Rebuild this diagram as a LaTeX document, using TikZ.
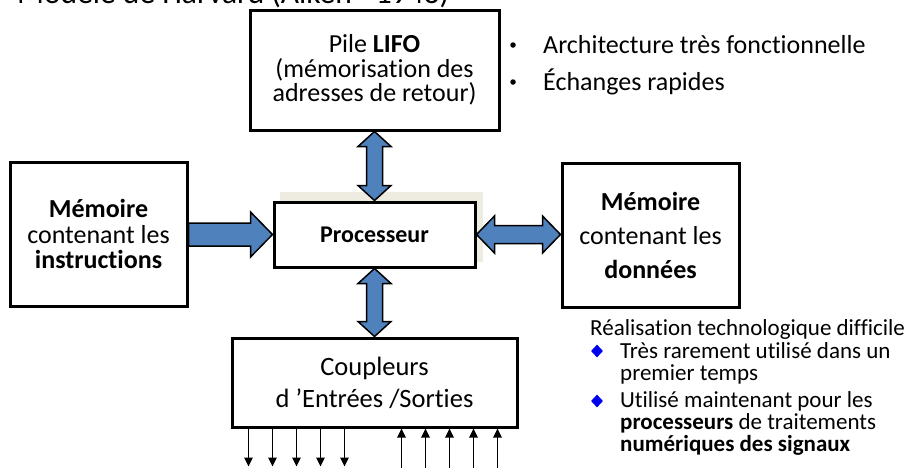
\documentclass[tikz,border=0pt]{standalone}
\usepackage{fontspec}
\setmainfont{Carlito}[Ligatures=NoCommon]
\usetikzlibrary{calc,arrows.meta,shapes.geometric}

\definecolor{arrowblue}{HTML}{4F81BD}
\definecolor{paper}{HTML}{EEECE1}
\definecolor{bulletblue}{HTML}{0000F0}

\tikzset{
  box/.style={draw=black, line width=3pt, fill=white, inner sep=0pt, align=center},
  blockarrow/.style={draw=black, line width=1.5pt, fill=arrowblue, line join=miter},
  sig/.style={line width=1.3pt, -{Triangle[length=9pt,width=8.5pt]}},
  txt/.style={inner sep=0pt, anchor=base west},
  dot/.style={circle, fill=black, inner sep=0pt, minimum size=5.5pt},
  diam/.style={diamond, fill=bulletblue, inner sep=0pt, minimum width=12pt, minimum height=13pt},
}

% vertical double block arrow: #1 upper end, #2 lower end,
% #3 half shaft width, #4 half head width, #5 head length
\newcommand\vdblarrow[5]{%
  \path[blockarrow] let \p1=(#1), \p2=(#2) in
    (\x1,\y1) -- (\x1+#4,\y1-#5) -- (\x1+#3,\y1-#5) -- (\x1+#3,\y2+#5)
    -- (\x1+#4,\y2+#5) -- (\x1,\y2) -- (\x1-#4,\y2+#5) -- (\x1-#3,\y2+#5)
    -- (\x1-#3,\y1-#5) -- (\x1-#4,\y1-#5) -- cycle;}

% horizontal double block arrow: #1 left end, #2 right end
\newcommand\hdblarrow[5]{%
  \path[blockarrow] let \p1=(#1), \p2=(#2) in
    (\x1,\y1) -- (\x1+#5,\y1+#4) -- (\x1+#5,\y1+#3) -- (\x2-#5,\y1+#3)
    -- (\x2-#5,\y1+#4) -- (\x2,\y1) -- (\x2-#5,\y1-#4) -- (\x2-#5,\y1-#3)
    -- (\x1+#5,\y1-#3) -- (\x1+#5,\y1-#4) -- cycle;}

% horizontal single block arrow: #1 tail end, #2 head end
\newcommand\hsglarrow[5]{%
  \path[blockarrow] let \p1=(#1), \p2=(#2) in
    (\x1,\y2+#3) -- (\x2-#5,\y2+#3) -- (\x2-#5,\y2+#4) -- (\x2,\y2)
    -- (\x2-#5,\y2-#4) -- (\x2-#5,\y2-#3) -- (\x1,\y2-#3) -- cycle;}

\begin{document}
\begin{tikzpicture}[x=1pt,y=-1pt]
  \useasboundingbox (0,0) rectangle (923,467);
  \fill[white] (0,0) rectangle (923,467);

  % heading, partly above the page edge
  \node[txt, font=\fontsize{31.5}{36}\selectfont] (title) at (17,3.5)
    {Modèle de Harvard (Aiken - 1943)};

  % pale panel behind the processor
  \node[fill=paper, inner sep=0pt, minimum width=203pt, minimum height=70pt] (procbg) at (381.5,227) {};

  % blocks
  \node[box, minimum width=249pt, minimum height=120pt, font=\fontsize{26}{24.5}\selectfont]
    (lifo) at (374.5,70) {Pile \textbf{LIFO}\\(mémorisation des\\adresses de retour)};
  \node[box, minimum width=177pt, minimum height=144pt, font=\fontsize{26}{25.5}\selectfont]
    (instr) at (98.5,234) {\textbf{Mémoire}\\contenant les\\\textbf{instructions}};
  \node[box, minimum width=201pt, minimum height=65pt, font=\fontsize{24}{28}\selectfont]
    (proc) at (374.5,234.5) {\textbf{Processeur}};
  \node[box, minimum width=177pt, minimum height=144pt, font=\fontsize{26}{34}\selectfont]
    (data) at (650.5,235) {\textbf{Mémoire}\\contenant les\\\textbf{données}};
  \node[box, minimum width=285pt, minimum height=89pt, font=\fontsize{26.5}{32}\selectfont]
    (io) at (374.5,382.5) {Coupleurs\\d ’Entrées /Sorties};

  % buses
  \vdblarrow{lifo.south}{proc.north}{8pt}{16.5pt}{15pt}
  \vdblarrow{proc.south}{io.north}{8pt}{16.5pt}{15pt}
  \hsglarrow{instr.east}{proc.west}{11.5pt}{22.5pt}{22pt}
  \hdblarrow{proc.east}{data.west}{9pt}{18.5pt}{18pt}

  % input / output lines
  \foreach \dx [count=\i] in {18,42,66,90,114}{
    \coordinate (out\i) at ($(io.south west)+(\dx,38)$);
    \draw[sig] ($(io.south west)+(\dx,0)$) -- (out\i);
  }
  \foreach \dx [count=\i] in {171,195,219,243,267}{
    \coordinate (in\i) at ($(io.south west)+(\dx,44)$);
    \draw[sig] (in\i) -- ($(io.south west)+(\dx,0)$);
  }

  % remarks, upper right
  \begin{scope}[font=\fontsize{26}{30}\selectfont]
    \node[dot] (b1) at (513,45) {};
    \node[txt] (r1) at (543,53) {Architecture très fonctionnelle};
    \node[dot] (b2) at (513,82) {};
    \node[txt] (r2) at (543,90) {Échanges rapides};
  \end{scope}

  % remarks, lower right
  \begin{scope}[font=\fontsize{23}{25}\selectfont]
    \node[txt] (n0) at (590,335) {Réalisation technologique difficile};
    \node[diam] (d1) at (597,351) {};
    \node[txt] (n1) at (620,358) {Très rarement utilisé dans un};
    \node[txt] (n2) at (620,380) {premier temps};
    \node[diam] (d2) at (597,401) {};
    \node[txt] (n3) at (620,407.5) {Utilisé maintenant pour les};
    \node[txt] (n4) at (620,429.5) {\textbf{processeurs} de traitements};
    \node[txt] (n5) at (620,451.5) {\textbf{numériques des signaux}};
  \end{scope}
\end{tikzpicture}
\end{document}
